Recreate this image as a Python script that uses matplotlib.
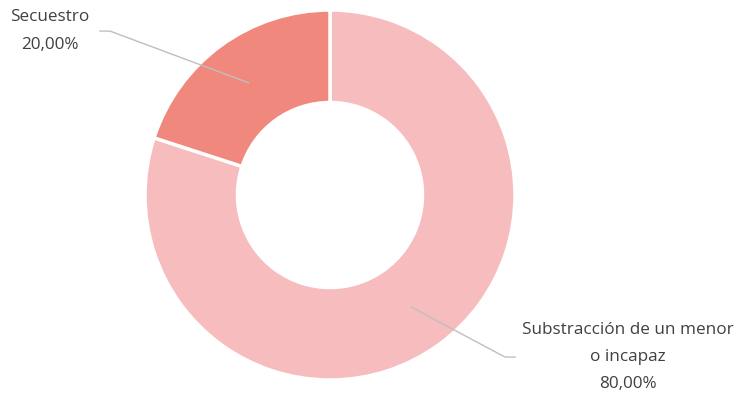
import numpy as np
import matplotlib
matplotlib.use('Agg')
import matplotlib.pyplot as plt

# datos
categorias = ['Substracción de un menor\no incapaz', 'Secuestro']
valores = [80.0, 20.0]
colores = ['#F7BCBE', '#F0887E']

plt.rcParams['font.family'] = ['Open Sans', 'DejaVu Sans']

fig = plt.figure(figsize=(7.4, 3.99), dpi=100)
ax = fig.add_axes([145 / 740, 19 / 399, 370 / 740, 370 / 399])

wedges, _ = ax.pie(valores, colors=colores, startangle=90, counterclock=False,
                   radius=1.0, wedgeprops=dict(width=0.5, edgecolor='white', linewidth=2.5))
ax.set_xlim(-1, 1)
ax.set_ylim(-1, 1)
ax.set_aspect('equal')

total = sum(valores)
# posiciones de las etiquetas (codo de la línea, extremo, centro del texto)
etiquetas = {
    0: dict(codo=(0.946, -0.876), fin=(1.0, -0.876), texto=(1.611, -0.876)),
    1: dict(codo=(-1.189, 0.886), fin=(-1.243, 0.886), texto=(-1.514, 0.886)),
}
for i, w in enumerate(wedges):
    ang = np.deg2rad((w.theta1 + w.theta2) / 2)
    p0 = (0.75 * np.cos(ang), 0.75 * np.sin(ang))
    e = etiquetas[i]
    ax.plot([p0[0], e['codo'][0], e['fin'][0]], [p0[1], e['codo'][1], e['fin'][1]],
            color='#BFBFBF', lw=1.0, clip_on=False)
    pct = f"{valores[i] / total * 100:.2f}%".replace('.', ',')
    ax.text(e['texto'][0], e['texto'][1], f"{categorias[i]}\n{pct}", ha='center', va='center',
            fontsize=12.3, color='#404040', linespacing=1.95, clip_on=False)

ax.axis('off')
fig.savefig('out.png', dpi=100)
